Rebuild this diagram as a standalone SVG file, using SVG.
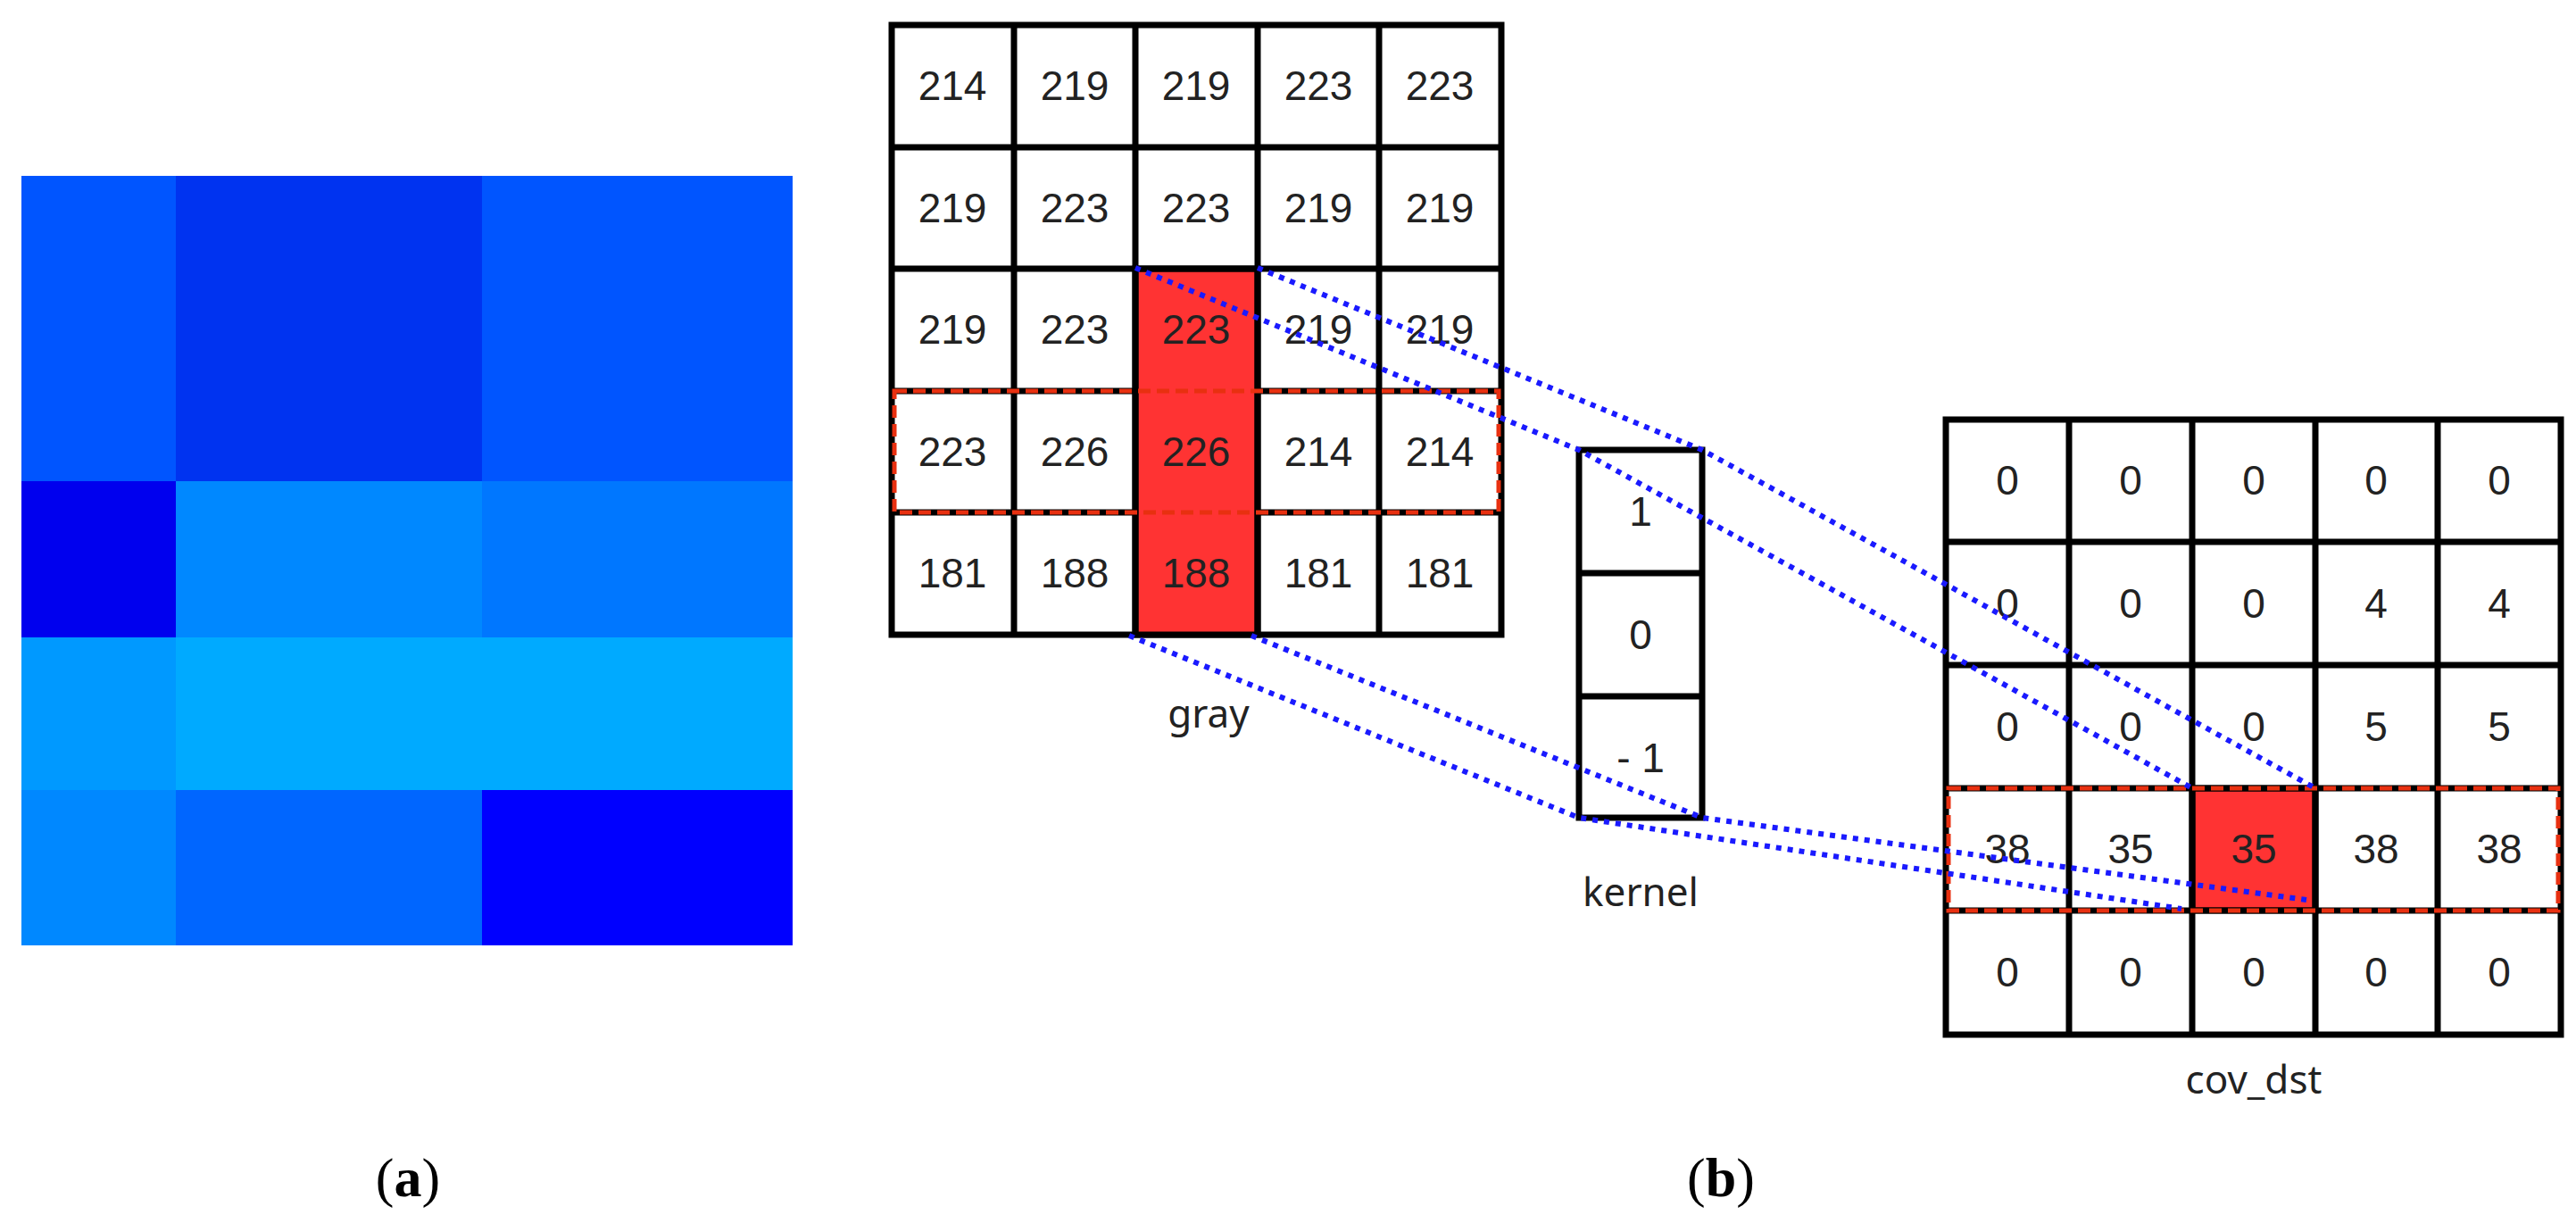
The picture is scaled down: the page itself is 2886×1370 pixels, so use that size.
<svg xmlns="http://www.w3.org/2000/svg" width="2886" height="1370" viewBox="0 0 2886 1370">
<style>
.c{fill:#fff;stroke:#000;stroke-width:7}
.r{fill:#ff3333;stroke:#000;stroke-width:7}
.t{font-family:"Liberation Sans",Arial,sans-serif;font-size:46px;fill:#222;text-anchor:middle;dominant-baseline:central}
.l{font-family:"Noto Sans","Liberation Sans",sans-serif;font-size:44px;fill:#222;text-anchor:middle}
.p{font-family:"Liberation Serif","Times New Roman",serif;font-size:62px;fill:#000;text-anchor:middle}
.d{fill:none;stroke:#e83010;stroke-width:5;stroke-dasharray:14 7}
.b{fill:none;stroke:#1a1aff;stroke-width:6;stroke-dasharray:6 7}
</style>
<rect width="2886" height="1370" fill="#fff"/>
<g id="imageA">
<rect x="24" y="197" width="173" height="342" fill="#0055ff"/>
<rect x="197" y="197" width="343" height="342" fill="#0033f0"/>
<rect x="540" y="197" width="348" height="342" fill="#0055ff"/>
<rect x="24" y="539" width="173" height="175" fill="#0000ee"/>
<rect x="197" y="539" width="343" height="175" fill="#0088ff"/>
<rect x="540" y="539" width="348" height="175" fill="#0077ff"/>
<rect x="24" y="714" width="173" height="171" fill="#0099ff"/>
<rect x="197" y="714" width="691" height="171" fill="#00aaff"/>
<rect x="24" y="885" width="173" height="174" fill="#0088ff"/>
<rect x="197" y="885" width="343" height="174" fill="#0066ff"/>
<rect x="540" y="885" width="348" height="174" fill="#0000ff"/>
</g>
<g id="gray">
<g transform="translate(999,28)">
<rect class="c" x="0" y="0" width="683" height="683"/>
<rect class="r" x="273" y="273" width="137" height="410"/>
<path d="M137 0V683M273 0V683M410 0V683M546 0V683M0 137H683M0 273H683M0 410H273M410 410H683M0 546H273M410 546H683" stroke="#000" stroke-width="7"/>
<rect class="d" x="3" y="410" width="677" height="136"/>
<g class="t">
<text x="68" y="68">214</text><text x="205" y="68">219</text><text x="341" y="68">219</text><text x="478" y="68">223</text><text x="614" y="68">223</text>
<text x="68" y="205">219</text><text x="205" y="205">223</text><text x="341" y="205">223</text><text x="478" y="205">219</text><text x="614" y="205">219</text>
<text x="68" y="341">219</text><text x="205" y="341">223</text><text x="341" y="341">223</text><text x="478" y="341">219</text><text x="614" y="341">219</text>
<text x="68" y="478">223</text><text x="205" y="478">226</text><text x="341" y="478">226</text><text x="478" y="478">214</text><text x="614" y="478">214</text>
<text x="68" y="614">181</text><text x="205" y="614">188</text><text x="341" y="614">188</text><text x="478" y="614">181</text><text x="614" y="614">181</text>
</g>
</g>
<text class="l" x="1354" y="815">gray</text>
</g>
<g id="kernel">
<rect class="c" x="1769" y="504" width="138" height="412"/>
<path d="M1769 642H1907M1769 780H1907" stroke="#000" stroke-width="7"/>
<g class="t"><text x="1838" y="573">1</text><text x="1838" y="711">0</text><text x="1838" y="849">- 1</text></g>
<text class="l" x="1838" y="1015">kernel</text>
</g>
<g id="cov_dst">
<g transform="translate(2180,470)">
<rect class="c" x="0" y="0" width="689" height="689"/>
<rect class="r" x="276" y="413" width="138" height="137"/>
<path d="M138 0V689M276 0V689M414 0V689M551 0V689M0 137H689M0 275H689M0 413H689M0 550H689" stroke="#000" stroke-width="7"/>
<rect class="d" x="3" y="413" width="683" height="137"/>
<g class="t">
<text x="69" y="68">0</text><text x="207" y="68">0</text><text x="345" y="68">0</text><text x="482" y="68">0</text><text x="620" y="68">0</text>
<text x="69" y="206">0</text><text x="207" y="206">0</text><text x="345" y="206">0</text><text x="482" y="206">4</text><text x="620" y="206">4</text>
<text x="69" y="344">0</text><text x="207" y="344">0</text><text x="345" y="344">0</text><text x="482" y="344">5</text><text x="620" y="344">5</text>
<text x="69" y="481">38</text><text x="207" y="481">35</text><text x="345" y="481">35</text><text x="482" y="481">38</text><text x="620" y="481">38</text>
<text x="69" y="619">0</text><text x="207" y="619">0</text><text x="345" y="619">0</text><text x="482" y="619">0</text><text x="620" y="619">0</text>
</g>
</g>
<text class="l" x="2525" y="1225">cov_dst</text>
</g>
<g id="connectors">
<polyline class="b" points="1272,300 1769,504 2456,883"/>
<polyline class="b" points="1409,300 1907,504 2594,883"/>
<polyline class="b" points="1265,712 1769,916 2444,1018"/>
<polyline class="b" points="1402,712 1907,916 2584,1008"/>
</g>
<text class="p" x="457" y="1340">(<tspan font-weight="bold">a</tspan>)</text>
<text class="p" x="1928" y="1340">(<tspan font-weight="bold">b</tspan>)</text>
</svg>
